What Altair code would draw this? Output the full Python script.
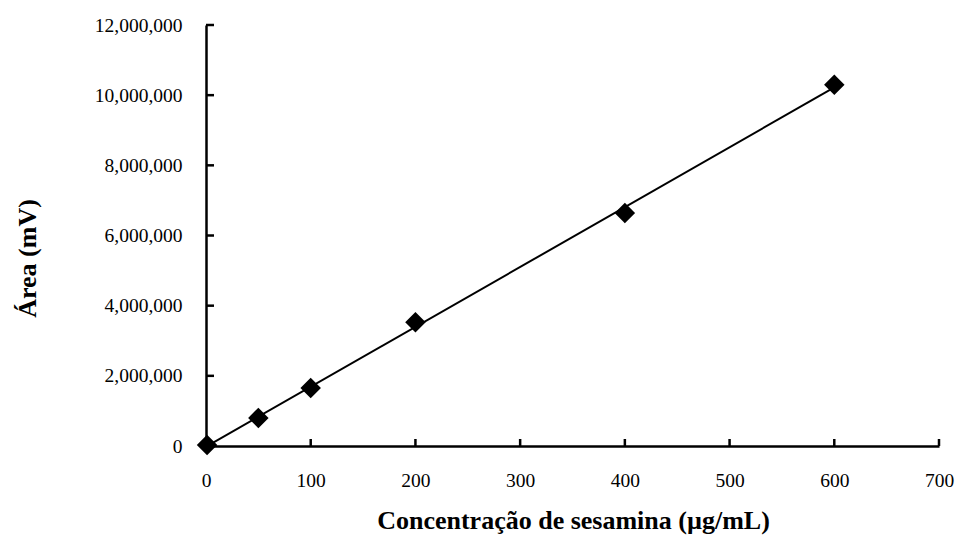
import altair as alt
import pandas as pd

conc = [1, 50, 100, 200, 400, 600]
area = [30000, 800000, 1650000, 3530000, 6640000, 10300000]
x_ticks = [0, 100, 200, 300, 400, 500, 600, 700]
y_ticks = [0, 2000000, 4000000, 6000000, 8000000, 10000000, 12000000]

df = pd.DataFrame({"conc": conc, "area": area})
xt = pd.DataFrame({"conc": x_ticks})
yt = pd.DataFrame({"area": y_ticks})

W, H = 733, 421
FONT = "Liberation Serif"

xscale = alt.Scale(domain=[0, 700], nice=False, zero=True)
yscale = alt.Scale(domain=[0, 12000000], nice=False)

x_axis = alt.Axis(
    values=x_ticks, ticks=False, grid=False, domainColor="black", domainWidth=2.5,
    labelFont=FONT, labelFontSize=19.5, labelColor="black", labelPadding=25,
    labelFlush=False, labelOverlap=False,
    title="Concentração de sesamina (µg/mL)", titleFont=FONT, titleFontSize=26,
    titleFontWeight="bold", titleColor="black", titleX=367, titleY=82,
    titleAlign="center", titleBaseline="alphabetic",
)
y_axis = alt.Axis(
    values=y_ticks, format=",d", ticks=False, grid=False, domainColor="black",
    domainWidth=2.5, labelFont=FONT, labelFontSize=19.5, labelColor="black",
    labelPadding=24, labelFlush=False, labelOverlap=False,
    title="Área (mV)", titleFont=FONT, titleFontSize=26,
    titleFontWeight="bold", titleColor="black", titleX=-179, titleY=233,
    titleAngle=-90, titleAlign="center", titleBaseline="middle",
)

points = alt.Chart(df).mark_point(
    shape="diamond", filled=True, color="black", size=420, opacity=1
).encode(
    x=alt.X("conc:Q", scale=xscale, axis=x_axis),
    y=alt.Y("area:Q", scale=yscale, axis=y_axis),
)

line = alt.Chart(df).transform_regression("conc", "area").mark_line(
    color="black", strokeWidth=2
).encode(
    x=alt.X("conc:Q", scale=xscale, title="Concentração de sesamina (µg/mL)"),
    y=alt.Y("area:Q", scale=yscale, title="Área (mV)"),
)

xticks = alt.Chart(xt).mark_rule(color="black", strokeWidth=2.5).encode(
    x=alt.X("conc:Q", scale=xscale, title="Concentração de sesamina (µg/mL)"),
    y=alt.value(H),
    y2=alt.value(H - 7),
)
yticks = alt.Chart(yt).mark_rule(color="black", strokeWidth=2.5).encode(
    y=alt.Y("area:Q", scale=yscale, title="Área (mV)"),
    x=alt.value(0),
    x2=alt.value(8),
)

chart = alt.layer(points, line, xticks, yticks).properties(
    width=W, height=H,
    autosize=alt.AutoSizeParams(type="none"),
    padding={"left": 206, "top": 25, "right": 21, "bottom": 104},
    background="white",
).configure_view(stroke=None)

chart.save("out.html", embed_options={"renderer": "svg", "actions": False})
